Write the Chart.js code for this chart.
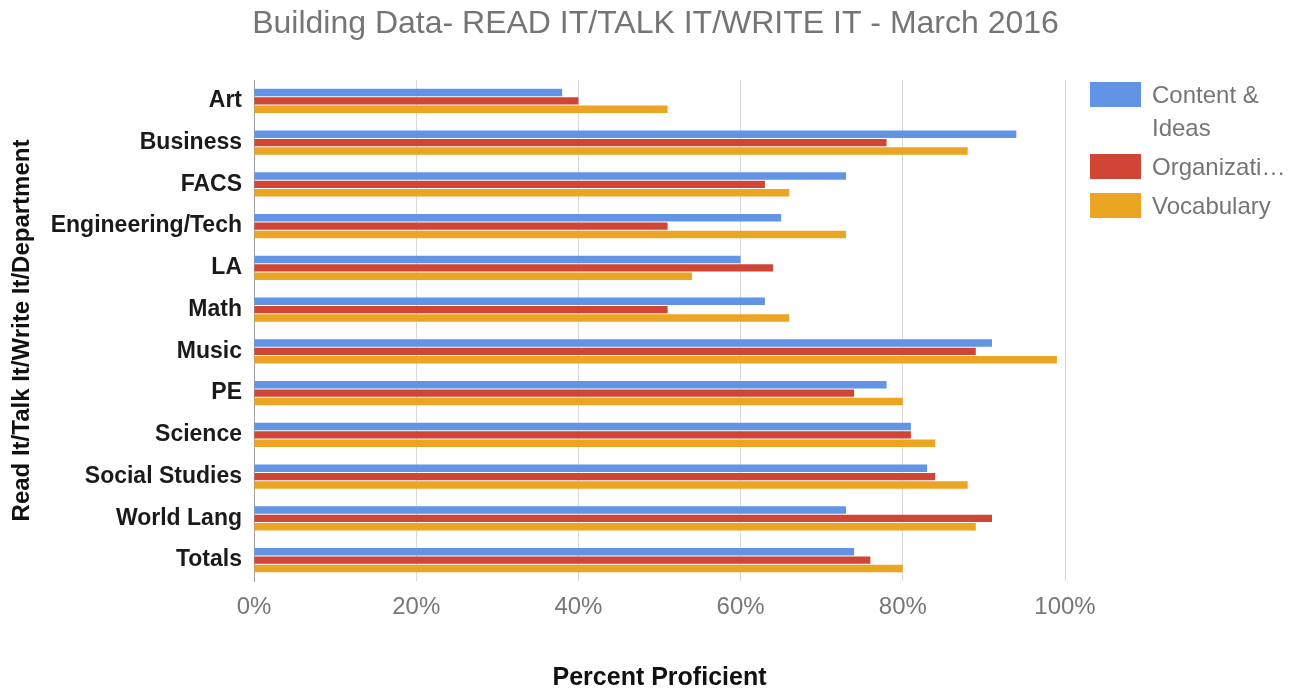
<!DOCTYPE html>
<html>
<head>
<meta charset="utf-8">
<title>Building Data</title>
<script src="https://cdn.jsdelivr.net/npm/chart.js@4"></script>
<style>
  html, body { margin: 0; padding: 0; background: #fff; }
  #wrap { width: 1294px; height: 693px; }
</style>
</head>
<body>
<div id="wrap"><canvas id="chart" width="1294" height="693"></canvas></div>
<script>
const chartTitle = "Building Data- READ IT/TALK IT/WRITE IT - March 2016";

const departments = ["Art", "Business", "FACS", "Engineering/Tech", "LA", "Math", "Music",
  "PE", "Science", "Social Studies", "World Lang", "Totals"];

const seriesNames = ["Content & Ideas", "Organization", "Vocabulary"];
const seriesColors = ["#6294e6", "#d04536", "#eca522"];

// percent proficient per department
const contentIdeas = [38, 94, 73, 65, 60, 63, 91, 78, 81, 83, 73, 74];
const organization = [40, 78, 63, 51, 64, 51, 89, 74, 81, 84, 91, 76];
const vocabulary   = [51, 88, 66, 73, 54, 66, 99, 80, 84, 88, 89, 80];

const xTicks = [0, 20, 40, 60, 80, 100];

const FONT = '"Liberation Sans", Arial, sans-serif';

// wrap a legend label on words, cut a word that is still too long with an ellipsis
function fitLines(ctx, text, maxW) {
  const words = text.split(" ");
  const lines = [];
  let cur = "";
  words.forEach(w => {
    const test = cur ? cur + " " + w : w;
    if (ctx.measureText(test).width <= maxW || !cur) cur = test;
    else { lines.push(cur); cur = w; }
  });
  if (cur) lines.push(cur);
  return lines.map(l => {
    if (ctx.measureText(l).width <= maxW) return l;
    let s = l;
    while (s.length > 1 && ctx.measureText(s + "\u2026").width > maxW) s = s.slice(0, -1);
    return s + "\u2026";
  });
}

// title on top, legend to the right of the plot
const titleAndLegend = {
  id: "titleAndLegend",
  afterDraw(chart) {
    const { ctx, chartArea } = chart;
    ctx.save();
    ctx.fillStyle = "#757575";
    ctx.font = "32px " + FONT;
    ctx.textAlign = "center";
    ctx.textBaseline = "alphabetic";
    ctx.fillText(chartTitle, (chartArea.left + chartArea.right) / 2 - 4, 33);

    ctx.font = "24px " + FONT;
    ctx.textAlign = "left";
    const boxX = chartArea.right + 25;
    let y = chartArea.top + 2;
    chart.data.datasets.forEach(ds => {
      const lines = fitLines(ctx, ds.label, 134);
      ctx.fillStyle = ds.backgroundColor;
      ctx.fillRect(boxX, y, 51, 25);
      ctx.fillStyle = "#757575";
      lines.forEach((line, i) => ctx.fillText(line, boxX + 62, y + 21 + i * 33));
      y += lines.length * 33 + 6;
    });
    ctx.restore();
  }
};

const seriesData = [contentIdeas, organization, vocabulary];

new Chart(document.getElementById("chart"), {
  type: "bar",
  data: {
    labels: departments,
    datasets: seriesNames.map((name, i) => ({
      label: name,
      data: seriesData[i],
      backgroundColor: seriesColors[i],
      borderWidth: 0,
      categoryPercentage: 0.6,
      barPercentage: 0.88
    }))
  },
  options: {
    indexAxis: "y",
    responsive: false,
    animation: false,
    devicePixelRatio: 1,
    layout: { padding: { top: 80, right: 229, left: 0, bottom: 0 } },
    plugins: {
      legend: { display: false },
      title: { display: false },
      tooltip: { enabled: false }
    },
    scales: {
      x: {
        min: 0,
        max: 100,
        afterBuildTicks: s => { s.ticks = xTicks.map(v => ({ value: v })); },
        afterFit: s => { s.height = 112; },
        grid: { color: "#d9d9d9", drawTicks: false },
        border: { display: false },
        ticks: {
          padding: 12,
          color: "#777",
          font: { family: FONT, size: 24 },
          callback: v => v + "%"
        },
        title: {
          display: true,
          text: "Percent Proficient",
          color: "#111",
          font: { family: FONT, size: 25, weight: "bold" },
          padding: { top: 0, bottom: 0 }
        }
      },
      y: {
        afterFit: s => { s.width = 254; },
        grid: { display: false, drawTicks: false },
        border: { display: true, color: "#9e9e9e", width: 1 },
        ticks: {
          padding: 12,
          color: "#1a1a1a",
          font: { family: FONT, size: 23, weight: "bold" }
        },
        title: {
          display: true,
          text: "Read It/Talk It/Write It/Department",
          color: "#111",
          font: { family: FONT, size: 24, weight: "bold" },
          padding: { top: 8, bottom: 0 }
        }
      }
    }
  },
  plugins: [titleAndLegend]
});
</script>
</body>
</html>
